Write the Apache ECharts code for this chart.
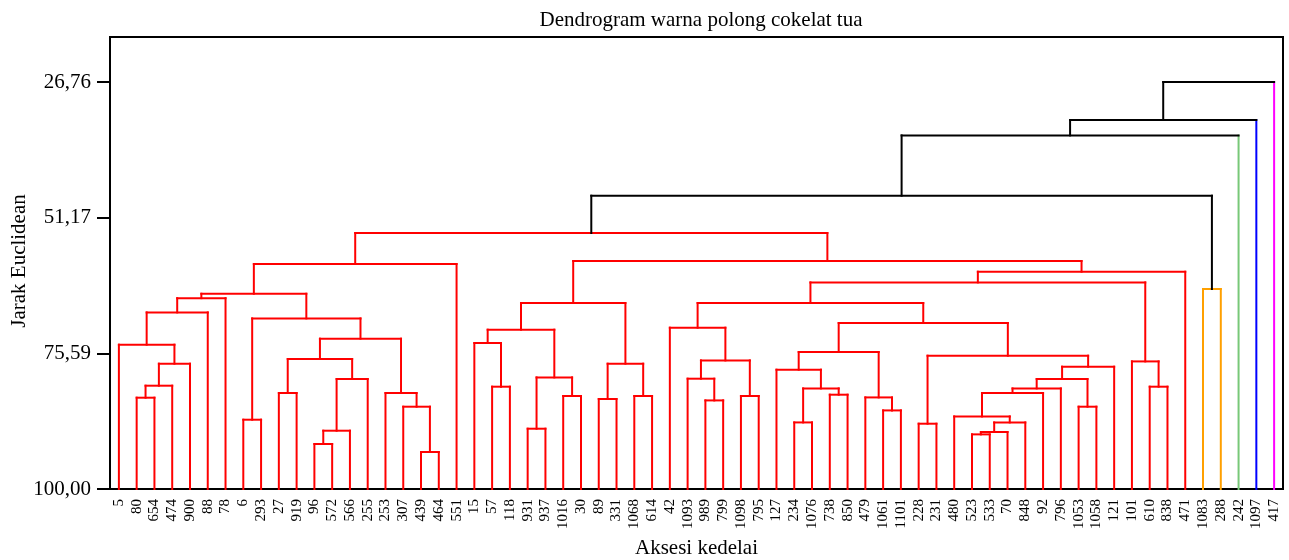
<!DOCTYPE html>
<html>
<head>
<meta charset="utf-8">
<script src="https://cdn.jsdelivr.net/npm/echarts@6/dist/echarts.min.js"></script>
<style>
html,body{margin:0;padding:0;background:#fff;}
#chart{width:1289px;height:560px;}
</style>
</head>
<body>
<div id="chart"></div>
<script>
// Leaf labels (left to right)
const leaves = ['5','80','654','474','900','88','78','6','293','27','919','96','572','566','255','253','307','439','464','551','15','57','118','931','937','1016','30','89','331','1068','614','42','1093','989','799','1098','795','127','234','1076','738','850','479','1061','1101','228','231','480','523','533','70','848','92','796','1053','1058','121','101','610','838','471','1083','288','242','1097','417'];

// Merge steps: left child, right child (leaf label or 'mN' = merge N), similarity level
const mergeLeft  = ['80','m0','m1','5','m3','m4','6','27','96','m8','m9','m7','439','307','253','m11','m6','m5','m17','57','15','931','1016','m21','m20','89','1068','m25','m24','989','1093','1098','m30','42','234','738','m34','127','1061','479','m37','228','523','m42','m43','480','m45','m46','1053','m47','m49','m41','m40','m33','610','101','m53','m56','m28','m18','1083','m59','m61','m62','m63'];
const mergeRight = ['654','474','900','m2','88','78','293','919','572','566','255','m10','464','m12','m13','m14','m15','m16','551','118','m19','937','30','m22','m23','331','614','m26','m27','799','m29','795','m31','m32','1076','850','m35','m36','1101','m38','m39','231','533','70','848','m44','92','796','1058','m48','121','m50','m51','m52','838','m54','m55','471','m57','m58','288','m60','242','1097','417'];
const mergeSim   = [83.57,81.41,77.45,74.03,68.22,65.66,87.53,82.72,91.90,89.51,80.21,76.61,93.34,85.19,82.72,72.95,69.30,64.86,59.51,81.59,73.73,89.15,83.26,79.92,71.33,83.80,83.26,77.45,66.53,84.06,80.15,83.26,76.86,70.97,88.02,83.03,81.90,78.53,85.86,83.52,75.35,88.25,90.17,89.74,88.02,86.94,82.72,81.90,85.19,80.21,77.99,76.01,70.13,66.53,81.59,77.04,62.82,60.90,58.97,53.93,64.01,47.22,36.37,33.60,26.76];

// Y axis tick values
const yTicks = [26.76, 51.17, 75.59, 100.00];
const yTop = 18.66;
const colorCut = 50;
const clusterColors = ['#ff0000', '#ffa000', '#78c878', '#0000ff', '#ff00ff'];
const linkBlack = '#000000';
const yAxisTitle = 'Jarak Euclidean';

// Build tree
const leafNodes = leaves.map((l, i) => ({x: i, y: 100, leaf: true, children: []}));
const leafIndex = {};
leaves.forEach((l, i) => { leafIndex[l] = i; });
const mergeNodes = [];
function ref(r) {
  if (r[0] === 'm') return mergeNodes[parseInt(r.slice(1), 10)];
  return leafNodes[leafIndex[r]];
}
mergeSim.forEach((s, i) => {
  const a = ref(mergeLeft[i]), b = ref(mergeRight[i]);
  mergeNodes.push({x: (a.x + b.x) / 2, y: s, leaf: false, children: [a, b]});
});
const root = mergeNodes[mergeNodes.length - 1];
let nextCluster = 0;
function assign(node, color) {
  if (node.y < colorCut) {
    node.color = linkBlack;
    node.children.forEach(c => assign(c, null));
  } else {
    if (color == null) color = clusterColors[nextCluster++ % clusterColors.length];
    node.color = color;
    node.children.forEach(c => assign(c, color));
  }
}
assign(root, null);

const FONT = 'Liberation Serif, Times New Roman, serif';
const chart = echarts.init(document.getElementById('chart'), null, {renderer: 'canvas'});

chart.setOption({
  animation: false,
  backgroundColor: '#ffffff',
  title: {
    text: 'Dendrogram warna polong cokelat tua',
    left: 696, top: 5, textAlign: 'center',
    textStyle: {fontFamily: FONT, fontSize: 21, fontWeight: 'normal', color: '#000'}
  },
  graphic: [{
    type: 'text',
    x: 19, y: 261,
    rotation: Math.PI / 2,
    style: {text: yAxisTitle, fontFamily: FONT, fontSize: 21, fill: '#000', align: 'center', verticalAlign: 'middle'}
  }],
  grid: {left: 110, top: 37, width: 1173, height: 452, show: true, borderColor: '#000', borderWidth: 2,
    backgroundColor: 'transparent', containLabel: false, outerBoundsMode: 'none'},
  xAxis: {
    type: 'category',
    data: leaves,
    boundaryGap: true,
    name: 'Aksesi kedelai',
    nameLocation: 'middle',
    nameGap: 49,
    nameTextStyle: {fontFamily: FONT, fontSize: 21, color: '#000'},
    axisLine: {lineStyle: {color: '#000', width: 2}},
    axisTick: {alignWithLabel: true, length: 4, interval: 0, lineStyle: {color: '#000', width: 2}},
    axisLabel: {rotate: 90, interval: 0, margin: 10, fontFamily: FONT, fontSize: 15, color: '#000'},
    splitLine: {show: false}
  },
  yAxis: {
    type: 'value',
    inverse: true,
    min: yTop, max: 100,
    axisLine: {show: true, lineStyle: {color: '#000', width: 2}},
    axisTick: {show: true, length: 13, customValues: yTicks, lineStyle: {color: '#000', width: 2}},
    axisLabel: {customValues: yTicks, margin: 19, fontFamily: FONT, fontSize: 21, color: '#000',
      formatter: v => v.toFixed(2).replace('.', ',')},
    splitLine: {show: false}
  },
  series: [{
    type: 'custom',
    clip: false,
    data: mergeNodes.map((m, i) => [Math.round(m.x), m.y, i]),
    encode: {x: 0, y: 1},
    renderItem: function (params, api) {
      const m = mergeNodes[params.dataIndex];
      const p0 = api.coord([0, 100]);
      const p1 = api.coord([1, 100]);
      const px = x => p0[0] + x * (p1[0] - p0[0]);
      const py = v => api.coord([0, v])[1];
      const a = m.children[0], b = m.children[1];
      const xa = px(a.x), xb = px(b.x), ym = py(m.y);
      const ca = a.leaf ? a.color : m.color;
      const cb = b.leaf ? b.color : m.color;
      const mk = (x1, y1, x2, y2, c) => ({
        type: 'line',
        shape: {x1: x1, y1: y1, x2: x2, y2: y2},
        style: {stroke: c, lineWidth: 2, lineCap: 'square'}
      });
      return {
        type: 'group',
        children: [
          mk(xa, py(a.y), xa, ym, ca),
          mk(xb, py(b.y), xb, ym, cb),
          mk(xa, ym, xb, ym, m.color)
        ]
      };
    }
  }]
});
</script>
</body>
</html>
